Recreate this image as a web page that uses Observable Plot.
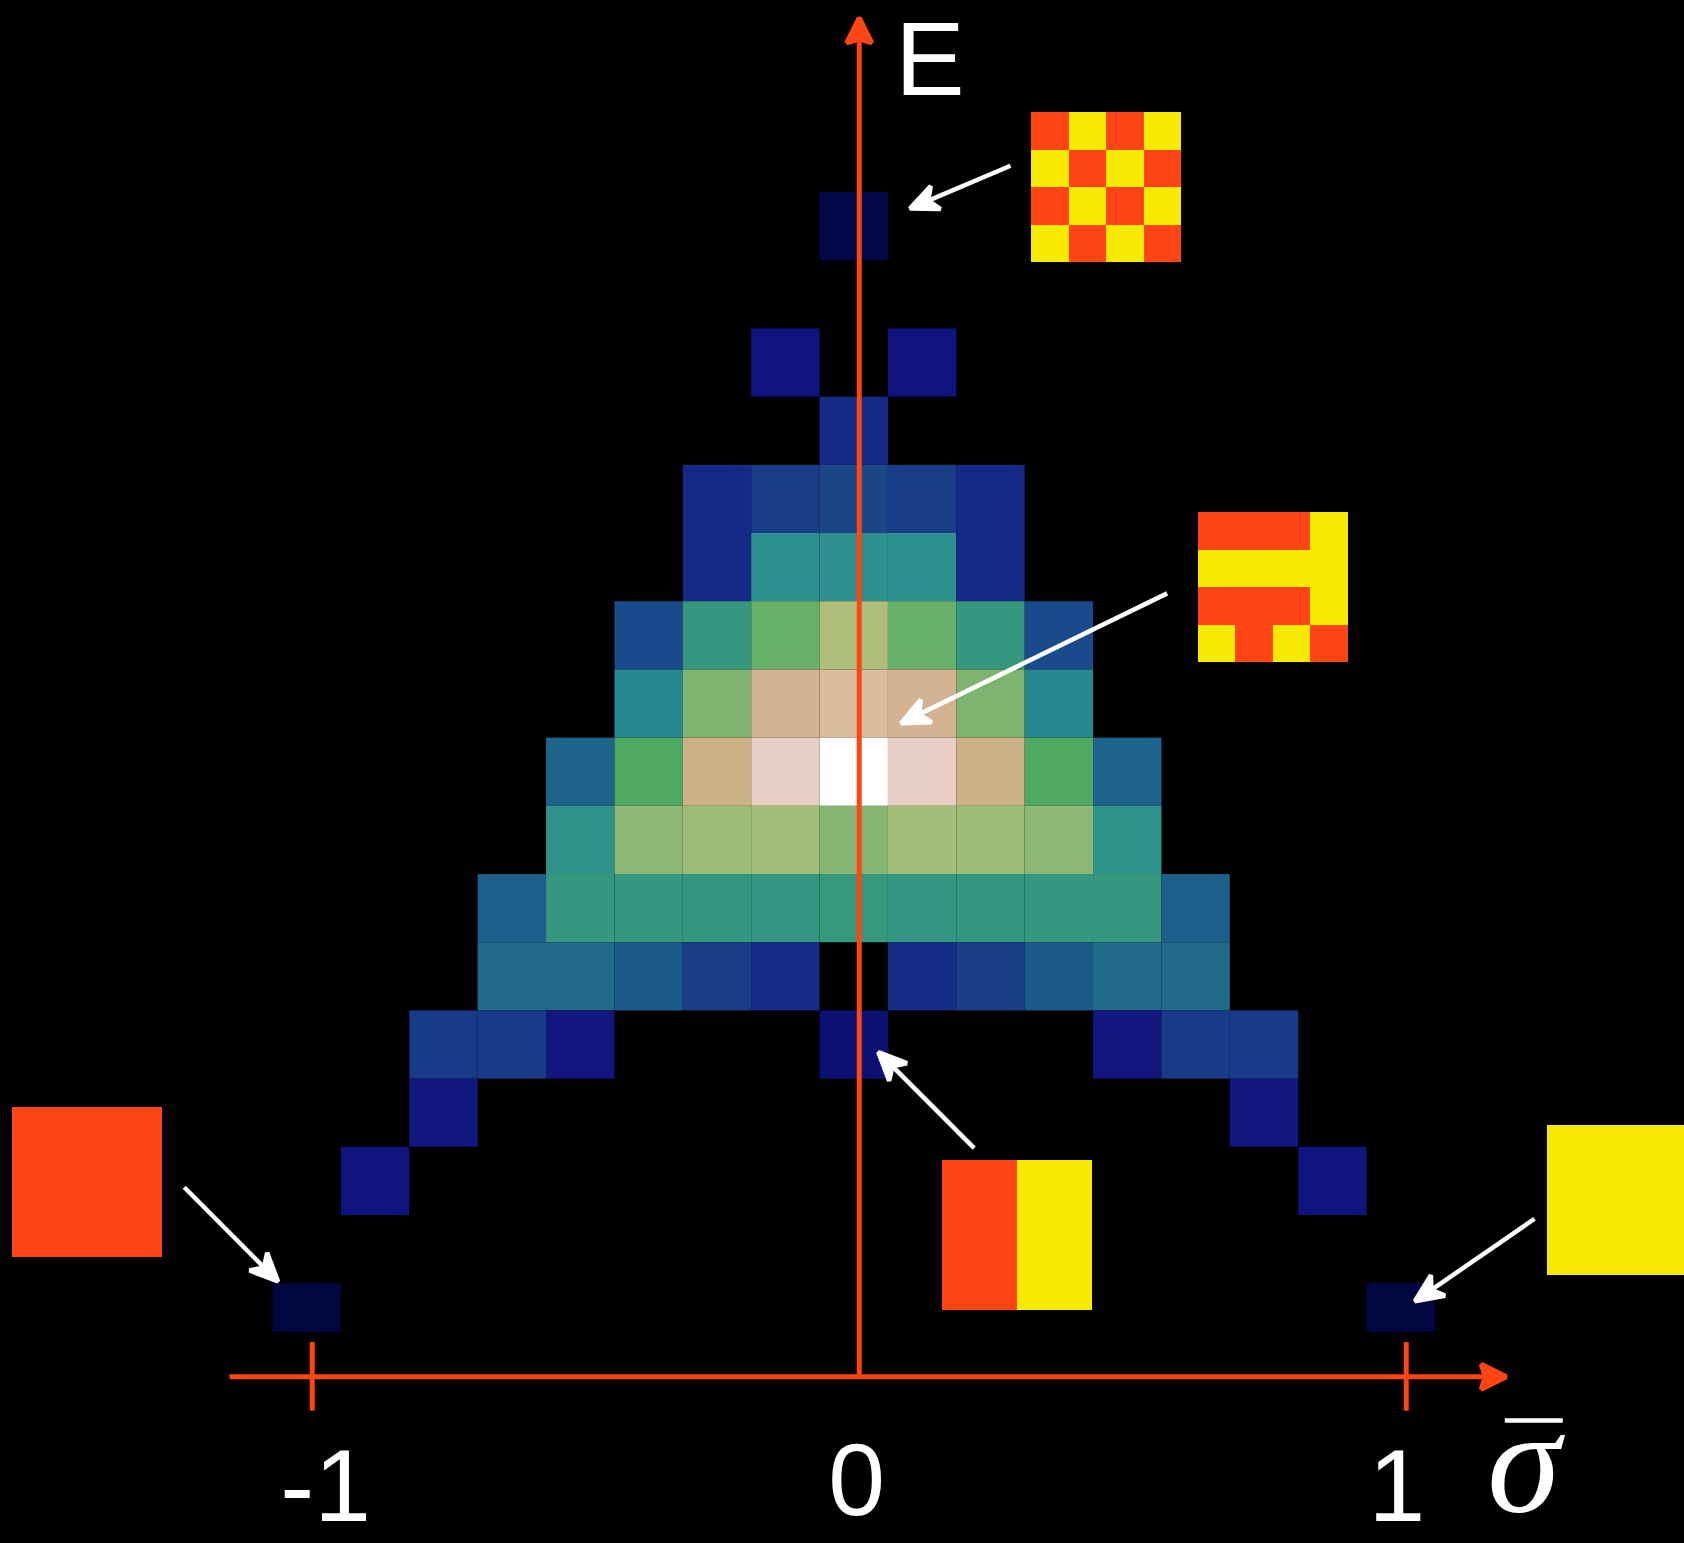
<!DOCTYPE html>
<html>
<head>
<meta charset="utf-8">
<script src="https://cdn.jsdelivr.net/npm/d3@7"></script>
<script src="https://cdn.jsdelivr.net/npm/@observablehq/plot@0.6"></script>
<style>
html, body { margin: 0; padding: 0; background: #000; overflow: hidden; }
#chart svg { display: block; }
</style>
</head>
<body>
<div id="chart"></div>
<script>
// ---------- DATA ----------
// magnetisation per spin (columns) and energy levels (rows)
const sigmaBins = [-1, -0.875, -0.75, -0.625, -0.5, -0.375, -0.25, -0.125, 0,
                   0.125, 0.25, 0.375, 0.5, 0.625, 0.75, 0.875, 1];
const energyLevels = [32, 28, 24, 20, 16, 12, 8, 4, 0, -4, -8, -12, -16, -20, -24, -28, -32];

// normalised log density of states (null = no state)
const N = null;
const density = [
  [N,N,N,N,N,N,N,N,0.02,N,N,N,N,N,N,N,N],                                  // E = 32
  [N,N,N,N,N,N,N,N,N,N,N,N,N,N,N,N,N],                                     // E = 28
  [N,N,N,N,N,N,N,0.13,N,0.13,N,N,N,N,N,N,N],                               // E = 24
  [N,N,N,N,N,N,N,N,0.20,N,N,N,N,N,N,N,N],                                  // E = 20
  [N,N,N,N,N,N,0.20,0.26,0.28,0.26,0.20,N,N,N,N,N,N],                      // E = 16
  [N,N,N,N,N,N,0.20,0.43,0.43,0.43,0.20,N,N,N,N,N,N],                      // E = 12
  [N,N,N,N,N,0.30,0.48,0.58,0.68,0.58,0.48,0.30,N,N,N,N,N],                // E = 8
  [N,N,N,N,N,0.41,0.61,0.79,0.82,0.79,0.61,0.41,N,N,N,N,N],                // E = 4
  [N,N,N,N,0.35,0.55,0.76,0.90,1.00,0.90,0.76,0.55,0.35,N,N,N,N],          // E = 0
  [N,N,N,N,0.44,0.63,0.65,0.665,0.62,0.665,0.65,0.63,0.44,N,N,N,N],        // E = -4
  [N,N,N,0.34,0.48,0.48,0.475,0.465,0.485,0.465,0.475,0.48,0.48,0.34,N,N,N], // E = -8
  [N,N,N,0.36,0.36,0.33,0.26,0.21,N,0.21,0.26,0.33,0.36,0.36,N,N,N],       // E = -12
  [N,N,0.25,0.25,0.14,N,N,N,0.11,N,N,N,0.14,0.25,0.25,N,N],                // E = -16
  [N,N,0.14,N,N,N,N,N,N,N,N,N,N,N,0.14,N,N],                               // E = -20
  [N,0.13,N,N,N,N,N,N,N,N,N,N,N,N,N,0.13,N],                               // E = -24
  [N,N,N,N,N,N,N,N,N,N,N,N,N,N,N,N,N],                                     // E = -28
  [0.0,N,N,N,N,N,N,N,N,N,N,N,N,N,N,N,0.0]                                  // E = -32
];

// axis tick values and labels
const sigmaTicks = [-1, 1];
const tickLabels = ["-1", "0", "1"];

// example spin configurations (-1 = red, +1 = yellow)
const configCheckerboard = [[-1,1,-1,1],[1,-1,1,-1],[-1,1,-1,1],[1,-1,1,-1]];
const configMixed        = [[-1,-1,-1,1],[1,1,1,1],[-1,-1,-1,1],[1,-1,1,-1]];
const configStripes      = [[-1,-1,1,1],[-1,-1,1,1],[-1,-1,1,1],[-1,-1,1,1]];
const configAllDown      = [[-1,-1,-1,-1],[-1,-1,-1,-1],[-1,-1,-1,-1],[-1,-1,-1,-1]];
const configAllUp        = [[1,1,1,1],[1,1,1,1],[1,1,1,1],[1,1,1,1]];

// ---------- LAYOUT (annotation placement, in data units) ----------
const layout = {
  binHalfS: 1 / 16, binHalfE: 2,
  spinDs: 0.06856, spinDE: 2.2,
  insets: [
    {config: configCheckerboard, s: 0.3155, E: 38.69},
    {config: configMixed,        s: 0.6197, E: 15.23},
    {config: configStripes,      s: 0.1514, E: -22.77},
    {config: configAllDown,      s: -1.5475, E: -19.67},
    {config: configAllUp,        s: 1.2581, E: -20.72}
  ],
  pointers: [
    {s1: 0.2766, E1: 35.57, s2: 0.1027, E2: 33.20},
    {s1: 0.5629, E1: 10.49, s2: 0.0863, E2: 3.03},
    {s1: 0.2101, E1: -22.05, s2: 0.0426, E2: -16.67},
    {s1: -1.2340, E1: -24.34, s2: -1.0702, E2: -29.62},
    {s1: 1.2345, E1: -26.19, s2: 1.0249, E2: -30.83}
  ],
  xAxis: {s1: -1.1512, E1: -35.46, s2: 1.1737, E2: -35.46},
  yAxis: {s1: 0, E1: -35.46, s2: 0, E2: 43.95},
  tickE1: -33.45, tickE2: -37.47,
  labelPos: [{s: -0.9757, E: -43.89}, {s: -0.0049, E: -43.54}, {s: 0.9828, E: -43.89}],
  eLabel: {s: 0.066, E: 39.69, text: "E"},
  sigmaLabel: {s: 1.148, E: -43.36, text: "σ"},
  sigmaBar: {s1: 1.1811, s2: 1.2871, E: -38.02}
};

const RED = "#ff4514";
const YELLOW = "#f6ea00";

// ---------- BUILD ----------
const cells = energyLevels.flatMap((E, i) =>
  sigmaBins.map((s, j) => ({s, E, v: density[i][j]})).filter(d => d.v != null));

const spinCells = layout.insets.flatMap(inset =>
  inset.config.flatMap((row, r) => row.map((spin, c) => ({
    spin,
    s1: inset.s + c * layout.spinDs, s2: inset.s + (c + 1) * layout.spinDs,
    E1: inset.E - r * layout.spinDE, E2: inset.E - (r + 1) * layout.spinDE
  }))));

const labels = tickLabels.map((text, i) => ({text, ...layout.labelPos[i]}));

function notchedHead(len, half, notch, lead) {
  return (color) => d3.create("svg:marker")
    .attr("viewBox", "-60 -30 80 60")
    .attr("markerWidth", 80)
    .attr("markerHeight", 60)
    .attr("markerUnits", "userSpaceOnUse")
    .attr("orient", "auto")
    .attr("overflow", "visible")
    .attr("fill", color)
    .call(m => m.append("path")
      .attr("d", `M${lead},0L${lead - len},${-half}L${lead - len + notch},0L${lead - len},${half}Z`))
    .node();
}
const redHead = notchedHead(25, 12.5, 4, 5);
const whiteHead = notchedHead(28, 12.5, 8, 6);

const colorStops = [0, 0.02, 0.11, 0.13, 0.20, 0.26, 0.28, 0.30, 0.34, 0.36, 0.41, 0.43,
                    0.48, 0.55, 0.58, 0.62, 0.65, 0.68, 0.76, 0.79, 0.82, 0.90, 1];
const colorRamp = ["#02063e", "#020848", "#0b1274", "#10147e", "#152a87", "#1a3d87", "#1b4687",
                   "#194a8c", "#1d5e8a", "#206a8a", "#26878e", "#2e908e", "#35987e", "#4eaa63",
                   "#67b06a", "#86b571", "#9abc78", "#aebf7c", "#cdb285", "#d4b392", "#d9bb9d",
                   "#e8cec5", "#ffffff"];

const chart = Plot.plot({
  width: 1684,
  height: 1543,
  marginTop: 0, marginRight: 0, marginLeft: 0, marginBottom: 211,
  style: {background: "black", color: "white", overflow: "hidden"},
  x: {domain: [-1.5699, 1.5087], axis: null},
  y: {domain: [-32.86, 45.26], axis: null},
  color: {type: "linear", domain: colorStops, range: colorRamp, interpolate: "rgb"},
  marks: [
    // density-of-states cells
    Plot.rect(cells, {
      x1: d => d.s - layout.binHalfS, x2: d => d.s + layout.binHalfS,
      y1: d => d.E - layout.binHalfE, y2: d => d.E + layout.binHalfE,
      fill: "v", inset: 0, dx: -5, clip: "frame"
    }),
    // axes
    Plot.link([layout.yAxis], {x1: "s1", y1: "E1", x2: "s2", y2: "E2",
      stroke: RED, strokeWidth: 5, markerEnd: redHead}),
    Plot.link([layout.xAxis], {x1: "s1", y1: "E1", x2: "s2", y2: "E2",
      stroke: RED, strokeWidth: 5, markerEnd: redHead}),
    Plot.ruleX(sigmaTicks, {y1: layout.tickE1, y2: layout.tickE2, stroke: RED, strokeWidth: 5}),
    // pointer arrows
    Plot.link(layout.pointers, {x1: "s1", y1: "E1", x2: "s2", y2: "E2",
      stroke: "white", strokeWidth: 4.5, markerEnd: whiteHead}),
    // spin configuration insets
    Plot.rect(spinCells, {filter: d => d.spin < 0, x1: "s1", x2: "s2", y1: "E1", y2: "E2",
      fill: RED, inset: 0, shapeRendering: "crispEdges"}),
    Plot.rect(spinCells, {filter: d => d.spin > 0, x1: "s1", x2: "s2", y1: "E1", y2: "E2",
      fill: YELLOW, inset: 0, shapeRendering: "crispEdges"}),
    // tick labels
    Plot.text(labels, {x: "s", y: "E", text: "text", fill: "white", fontSize: 102,
      fontFamily: "Liberation Sans, Arial, sans-serif", lineAnchor: "bottom", textAnchor: "middle"}),
    // axis titles
    Plot.text([layout.eLabel], {x: "s", y: "E", text: "text", fill: "white", fontSize: 104,
      fontFamily: "'Liberation Sans Narrow', 'Liberation Sans', sans-serif",
      lineAnchor: "bottom", textAnchor: "start"}),
    Plot.text([layout.sigmaLabel], {x: "s", y: "E", text: "text", fill: "white", fontSize: 148,
      fontFamily: "'Liberation Serif', 'DejaVu Serif', serif", fontStyle: "italic",
      lineAnchor: "bottom", textAnchor: "start"}),
    Plot.ruleY([layout.sigmaBar], {x1: "s1", x2: "s2", y: "E", stroke: "white", strokeWidth: 4.7})
  ]
});
document.getElementById("chart").appendChild(chart);
</script>
</body>
</html>
